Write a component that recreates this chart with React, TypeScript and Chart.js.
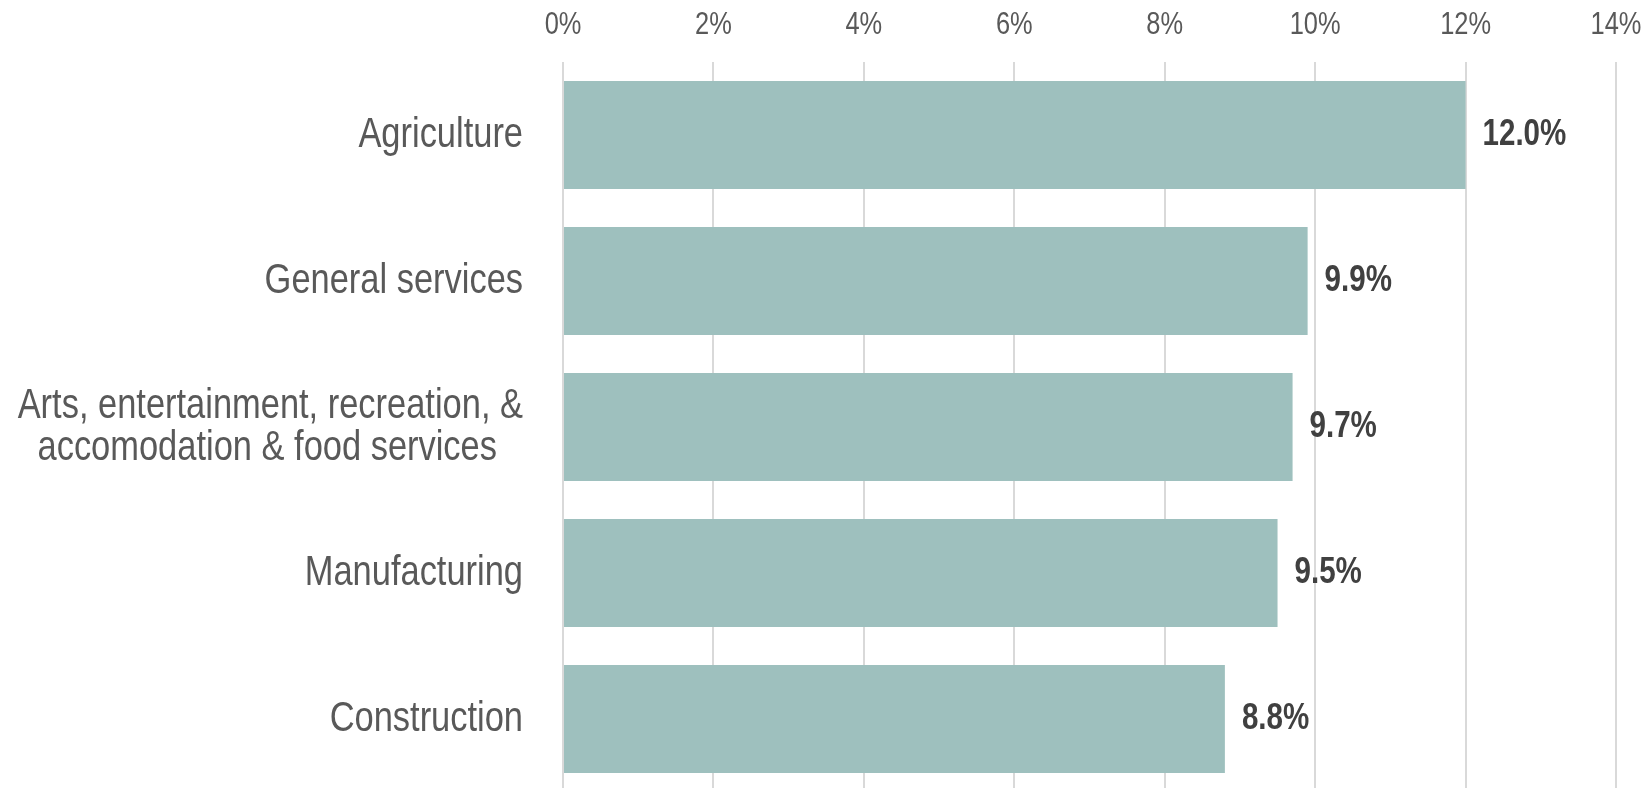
import React, { useEffect, useRef } from "react";
import { Chart, registerables } from "chart.js";

Chart.register(...registerables);

const categories: (string | string[])[] = [
  "Agriculture",
  "General services",
  ["Arts, entertainment, recreation, &", "accomodation & food services  \u2009"],
  "Manufacturing",
  "Construction",
];
const values: number[] = [12.0, 9.9, 9.7, 9.5, 8.8];
const xTicks = { min: 0, max: 14, step: 2 };

const FONT = "'Liberation Sans', Arial, sans-serif";
const NARROW = 0.82;

// Draw all chart text horizontally condensed (Arial Narrow look) around its anchor point.
const narrowText = {
  id: "narrowText",
  beforeDraw(chart: any) {
    const ctx = chart.ctx;
    if (ctx.__origFillText) return;
    const orig = ctx.fillText;
    ctx.__origFillText = orig;
    ctx.fillText = function (text: string, x: number, y: number, maxWidth?: number) {
      this.save();
      this.translate(x, y);
      this.scale(NARROW, 1);
      if (maxWidth === undefined) orig.call(this, text, 0, 0);
      else orig.call(this, text, 0, 0, maxWidth / NARROW);
      this.restore();
    };
  },
  afterDraw(chart: any) {
    const ctx = chart.ctx;
    if (ctx.__origFillText) {
      ctx.fillText = ctx.__origFillText;
      delete ctx.__origFillText;
    }
  },
};

const dataLabels = {
  id: "dataLabels",
  afterDatasetsDraw(chart: any) {
    const ctx = chart.ctx;
    const meta = chart.getDatasetMeta(0);
    ctx.save();
    ctx.font = `bold 36px ${FONT}`;
    ctx.fillStyle = "#404040";
    ctx.textAlign = "left";
    ctx.textBaseline = "middle";
    meta.data.forEach((bar: any, i: number) => {
      ctx.fillText(values[i].toFixed(1) + "%", bar.x + 17, bar.y);
    });
    ctx.restore();
  },
};

export default function App() {
  const ref = useRef<HTMLCanvasElement>(null);
  useEffect(() => {
    if (!ref.current) return;
    const chart = new Chart(ref.current, {
      type: "bar",
      data: {
        labels: categories,
        datasets: [
          {
            data: values,
            backgroundColor: "#9EC0BE",
            barPercentage: 0.74,
            categoryPercentage: 1,
          },
        ],
      },
      options: {
        indexAxis: "y",
        animation: false,
        responsive: false,
        layout: { padding: { left: 0, right: 35, top: 0, bottom: 0 } },
        plugins: { legend: { display: false }, tooltip: { enabled: false } },
        scales: {
          x: {
            position: "top",
            min: xTicks.min,
            max: xTicks.max,
            ticks: {
              stepSize: xTicks.step,
              callback: (v: any) => v + "%",
              font: { family: FONT, size: 31 },
              color: "#595959",
              padding: 18,
            },
            grid: { color: "#d9d9d9", lineWidth: 2, drawTicks: false },
            border: { display: false },
            afterFit: (s: any) => {
              s.height = 62;
              s.paddingLeft = 0;
              s.paddingRight = 0;
            },
          },
          y: {
            ticks: {
              font: { family: FONT, size: 42, lineHeight: 1.0 },
              color: "#595959",
              padding: 40,
            },
            grid: { display: false, drawTicks: false },
            border: { display: false },
            afterFit: (s: any) => {
              s.width = 563;
              s.paddingTop = 0;
              s.paddingBottom = 0;
            },
          },
        },
      },
      plugins: [narrowText, dataLabels],
    });
    return () => chart.destroy();
  }, []);
  return (
    <div style={{ position: "fixed", left: 0, top: 0, width: 1651, height: 792, background: "#fff" }}>
      <canvas ref={ref} width={1651} height={792} style={{ display: "block", width: 1651, height: 792 }} />
    </div>
  );
}
